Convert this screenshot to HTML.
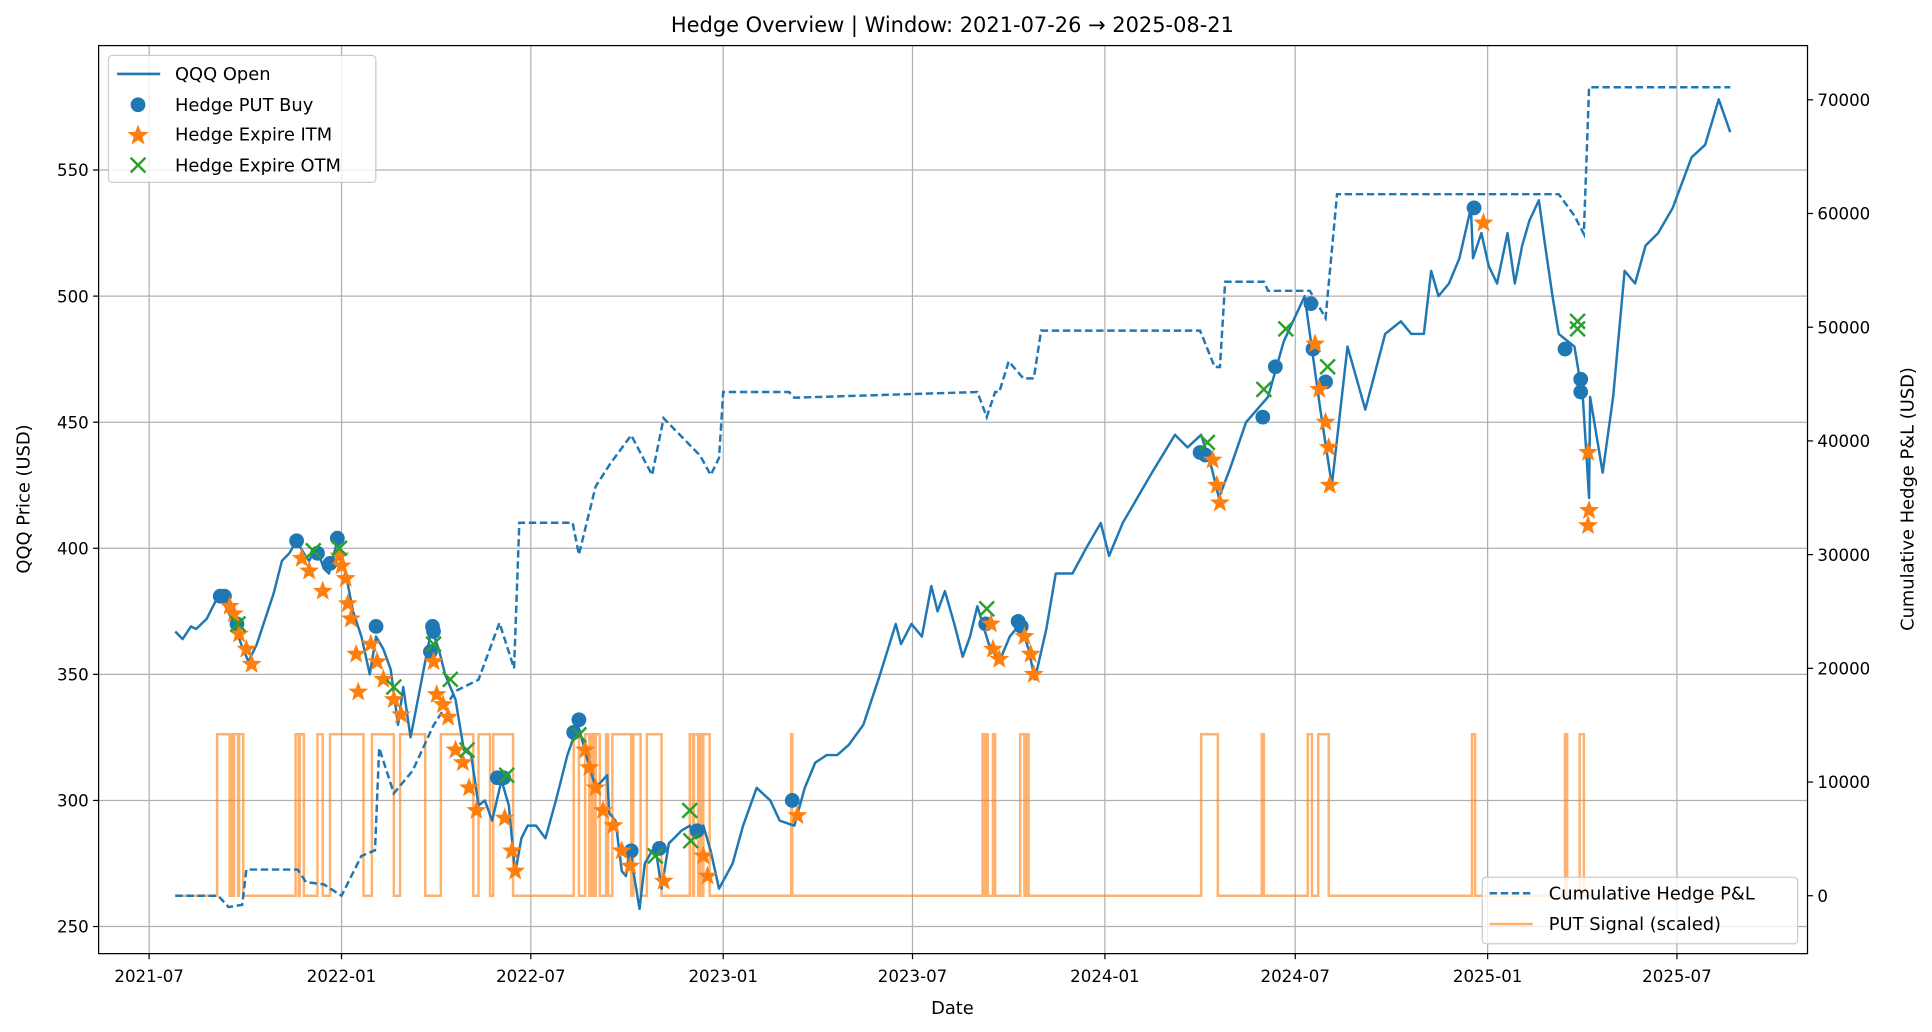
<!DOCTYPE html>
<html><head><meta charset="utf-8"><style>
html,body{margin:0;padding:0;background:#fff;}
svg{display:block;font-family:"DejaVu Sans","Liberation Sans",sans-serif;}
</style></head><body>
<svg id="chart" width="1932" height="1032" viewBox="0 0 1568 837.6" xmlns="http://www.w3.org/2000/svg">
<rect width="1568" height="837.6" fill="#fff"/>
<text x="773" y="26" font-size="17" text-anchor="middle">Hedge Overview  | Window: 2021-07-26 → 2025-08-21</text>
<g id="grid"></g>
<g id="sig"></g>
<g id="pnl"></g>
<g id="qqq"></g>
<g id="marks"></g>
<rect x="80" y="37" width="1387" height="737" fill="none" stroke="#000" stroke-width="1"/>
<g id="axes" font-size="13.5"></g>
<text x="773" y="823" font-size="14.5" text-anchor="middle">Date</text>
<text transform="translate(24,405) rotate(-90)" font-size="14.5" text-anchor="middle">QQQ Price (USD)</text>
<text transform="translate(1553,405) rotate(-90)" font-size="14.5" text-anchor="middle">Cumulative Hedge P&amp;L (USD)</text>
<g>
<rect x="88" y="45" width="217" height="103" rx="3" fill="#fff" fill-opacity="0.8" stroke="#ccc"/>
<line x1="95" y1="60" x2="130" y2="60" stroke="#1f77b4" stroke-width="2.2"/>
<text x="142" y="65" font-size="14.5">QQQ Open</text>
<circle cx="112" cy="85" r="6" fill="#1f77b4"/>
<text x="142" y="90" font-size="14.5">Hedge PUT Buy</text>
<path id="legstar" d="" fill="#ff7f0e"/>
<text x="142" y="114" font-size="14.5">Hedge Expire ITM</text>
<path d="M106,128 L118,140 M118,128 L106,140" stroke="#2ca02c" stroke-width="2"/>
<text x="142" y="139" font-size="14.5">Hedge Expire OTM</text>
</g>
<g>
<rect x="1203" y="712" width="256" height="54" rx="3" fill="#fff" fill-opacity="0.8" stroke="#ccc"/>
<line x1="1209" y1="725" x2="1244" y2="725" stroke="#1f77b4" stroke-width="2" stroke-dasharray="6,3"/>
<text x="1257" y="730" font-size="14.5">Cumulative Hedge P&amp;L</text>
<line x1="1209" y1="750" x2="1244" y2="750" stroke="#ff7f0e" stroke-opacity="0.6" stroke-width="2.2"/>
<text x="1257" y="755" font-size="14.5">PUT Signal (scaled)</text>
</g>
</svg>
<script>
const qqqDates=["2021-07-26","2021-08-02","2021-08-10","2021-08-15","2021-08-25","2021-09-05","2021-09-12","2021-09-20","2021-09-27","2021-10-04","2021-10-12","2021-10-20","2021-10-28","2021-11-05","2021-11-12","2021-11-19","2021-11-26","2021-12-01","2021-12-06","2021-12-10","2021-12-15","2021-12-20","2021-12-28","2022-01-05","2022-01-12","2022-01-20","2022-01-28","2022-02-03","2022-02-10","2022-02-17","2022-02-24","2022-03-01","2022-03-08","2022-03-15","2022-03-28","2022-04-04","2022-04-10","2022-04-20","2022-04-28","2022-05-05","2022-05-12","2022-05-18","2022-05-25","2022-06-03","2022-06-10","2022-06-16","2022-06-22","2022-06-28","2022-07-06","2022-07-15","2022-07-25","2022-08-05","2022-08-15","2022-08-25","2022-09-01","2022-09-12","2022-09-14","2022-09-20","2022-09-26","2022-09-30","2022-10-04","2022-10-07","2022-10-13","2022-10-18","2022-10-25","2022-10-28","2022-11-03","2022-11-10","2022-11-15","2022-11-22","2022-11-30","2022-12-06","2022-12-13","2022-12-20","2022-12-28","2023-01-10","2023-01-20","2023-02-02","2023-02-15","2023-02-24","2023-03-10","2023-03-20","2023-03-30","2023-04-10","2023-04-20","2023-05-01","2023-05-15","2023-05-31","2023-06-15","2023-06-20","2023-06-30","2023-07-10","2023-07-19","2023-07-25","2023-08-01","2023-08-10","2023-08-18","2023-08-25","2023-09-01","2023-09-12","2023-09-22","2023-10-02","2023-10-12","2023-10-20","2023-10-26","2023-11-06","2023-11-15","2023-12-01","2023-12-14","2023-12-28","2024-01-05","2024-01-18","2024-02-01","2024-02-15","2024-03-08","2024-03-20","2024-04-02","2024-04-12","2024-04-19","2024-04-30","2024-05-15","2024-06-05","2024-06-20","2024-07-10","2024-07-25","2024-08-05","2024-08-20","2024-09-06","2024-09-25","2024-10-10","2024-10-20","2024-11-01","2024-11-08","2024-11-15","2024-11-25","2024-12-05","2024-12-16","2024-12-18","2024-12-26","2025-01-02","2025-01-10","2025-01-20","2025-01-27","2025-02-03","2025-02-10","2025-02-19","2025-02-25","2025-03-04","2025-03-10","2025-03-25","2025-04-02","2025-04-08","2025-04-09","2025-04-21","2025-05-01","2025-05-12","2025-05-22","2025-06-01","2025-06-13","2025-06-27","2025-07-15","2025-07-28","2025-08-10","2025-08-21"];
const qqqValues=[367,364,369,368,372,381,377,370,362,355,362,372,382,395,398,403,398,395,399,398,392,390,403,390,375,365,350,365,360,352,330,345,325,340,368,360,350,340,320,318,298,300,292,308,298,271,285,290,290,285,300,318,330,315,305,310,295,292,272,270,282,272,257,275,280,282,265,283,285,288,290,285,290,280,265,275,290,305,300,292,290,305,315,318,318,322,330,350,370,362,370,365,385,375,383,370,357,365,377,362,355,365,370,360,348,368,390,390,400,410,397,410,420,430,445,440,445,432,420,432,450,460,482,500,455,425,480,455,485,490,485,485,510,500,505,515,535,515,525,512,505,525,505,520,530,538,520,500,485,480,460,420,460,430,460,510,505,520,525,535,555,560,578,565];
const pnlDates=["2021-07-26","2021-09-05","2021-09-15","2021-09-28","2021-10-02","2021-11-20","2021-11-28","2021-12-15","2022-01-01","2022-01-20","2022-02-02","2022-02-06","2022-02-20","2022-03-10","2022-03-30","2022-04-20","2022-05-12","2022-06-01","2022-06-15","2022-06-20","2022-08-10","2022-08-16","2022-09-01","2022-09-15","2022-10-05","2022-10-25","2022-11-05","2022-12-10","2022-12-20","2022-12-28","2023-01-01","2023-03-05","2023-03-10","2023-09-01","2023-09-10","2023-09-18","2023-09-22","2023-10-01","2023-10-15","2023-10-25","2023-11-01","2024-04-01","2024-04-15","2024-04-20","2024-04-25","2024-06-01","2024-06-05","2024-07-15","2024-07-30","2024-08-10","2025-03-10","2025-03-25","2025-04-03","2025-04-08","2025-08-21"];
const pnlValues=[0,0,-1000,-800,2300,2300,1200,1000,0,3500,4000,13000,9000,11000,15000,18000,19000,24000,20000,32800,32800,30000,36000,38000,40500,37000,42000,38700,37000,38500,44300,44300,43800,44300,42100,44300,44300,47000,45500,45500,49700,49700,46500,46500,54000,54000,53200,53200,50800,61700,61700,59800,58200,71100,71100];
const sigStarts=["2021-09-04","2021-09-17","2021-09-20","2021-09-25","2021-11-18","2021-11-22","2021-12-09","2021-12-21","2022-01-30","2022-02-26","2022-04-06","2022-05-12","2022-05-26","2022-08-11","2022-08-22","2022-08-28","2022-09-01","2022-09-11","2022-09-17","2022-10-07","2022-10-20","2022-11-30","2022-12-04","2022-12-10","2022-12-13","2023-03-07","2023-09-06","2023-09-09","2023-09-16","2023-10-12","2023-10-18","2024-04-02","2024-05-30","2024-07-13","2024-07-23","2024-12-17","2025-03-16","2025-03-30"];
const sigEnds=["2021-09-16","2021-09-19","2021-09-24","2021-09-29","2021-11-21","2021-11-26","2021-12-14","2022-01-22","2022-02-20","2022-03-22","2022-05-07","2022-05-23","2022-06-14","2022-08-16","2022-08-26","2022-08-30","2022-09-05","2022-09-13","2022-10-05","2022-10-14","2022-11-03","2022-12-03","2022-12-08","2022-12-12","2022-12-19","2023-03-08","2023-09-08","2023-09-11","2023-09-18","2023-10-16","2023-10-20","2024-04-18","2024-06-01","2024-07-17","2024-08-02","2024-12-20","2025-03-18","2025-04-03"];
const sigLevel=14200;
const buyDates=["2021-09-07","2021-09-11","2021-09-23","2021-11-19","2021-12-09","2021-12-21","2021-12-28","2022-02-03","2022-03-29","2022-03-30","2022-03-27","2022-08-16","2022-08-11","2022-05-30","2022-06-05","2022-10-05","2022-11-01","2022-12-07","2023-03-08","2023-09-09","2023-10-10","2023-10-13","2024-04-01","2024-04-06","2024-05-31","2024-06-12","2024-07-16","2024-07-18","2024-07-30","2024-12-19","2025-03-16","2025-03-31","2025-03-31"];
const buyPrices=[381,381,370,403,398,394,404,369,369,367,359,332,327,309,309,280,281,288,300,370,371,369,438,437,452,472,497,479,466,535,479,467,462];
const itmDates=["2021-09-16","2021-09-20","2021-09-25","2021-10-02","2021-10-07","2021-11-24","2021-12-01","2021-12-14","2021-12-30","2022-01-01","2022-01-05","2022-01-07","2022-01-10","2022-01-15","2022-01-17","2022-01-29","2022-02-04","2022-02-10","2022-02-20","2022-02-27","2022-03-30","2022-04-02","2022-04-08","2022-04-13","2022-04-20","2022-04-27","2022-05-03","2022-05-10","2022-06-06","2022-06-13","2022-06-16","2022-08-22","2022-08-26","2022-09-01","2022-09-08","2022-09-18","2022-09-26","2022-10-04","2022-11-05","2022-12-13","2022-12-17","2023-03-13","2023-09-14","2023-09-16","2023-09-22","2023-10-16","2023-10-22","2023-10-25","2024-04-13","2024-04-17","2024-04-20","2024-07-20","2024-07-24","2024-07-30","2024-08-02","2024-08-03","2024-12-28","2025-04-07","2025-04-08","2025-04-07"];
const itmPrices=[377,374,366,360,354,396,391,383,397,393,388,378,372,358,343,362,355,348,340,334,355,342,338,333,320,315,305,296,293,280,272,320,313,305,296,290,280,274,268,278,270,294,370,360,356,365,358,350,435,425,418,481,463,450,440,425,529,438,415,409];
const otmDates=["2021-09-24","2021-12-05","2021-12-30","2022-02-20","2022-03-30","2022-04-15","2022-05-01","2022-06-08","2022-08-16","2022-10-28","2022-11-30","2022-12-01","2023-09-10","2024-04-08","2024-06-01","2024-06-22","2024-08-01","2025-03-28","2025-03-28"];
const otmPrices=[370,399,400,345,362,348,320,310,326,278,296,284,376,442,463,487,472,490,487];
const xTickLabels=["2021-07","2022-01","2022-07","2023-01","2023-07","2024-01","2024-07","2025-01","2025-07"];
const yTickLabels=[250,300,350,400,450,500,550];
const y2TickLabels=[0,10000,20000,30000,40000,50000,60000,70000];

const NS="http://www.w3.org/2000/svg";
const D0=Date.UTC(2021,6,1);
function days(s){const p=s.split("-").map(Number);return (Date.UTC(p[0],p[1]-1,p[2]||1)-D0)/864e5;}
function X(s){return 121+days(s)*(1240/1461);}
function Y(v){return 752-(v-250)*(614/300);}
function Y2(v){return 727-v*(646/70000);}
function mk(tag,attrs,parent){const e=document.createElementNS(NS,tag);for(const k in attrs)e.setAttribute(k,attrs[k]);parent.appendChild(e);return e;}
const grid=document.getElementById("grid"),axes=document.getElementById("axes");
xTickLabels.forEach(t=>{const x=X(t+"-01");
 const l=mk("line",{x1:x,x2:x,y1:37,y2:774,stroke:"#b0b0b0","stroke-width":1},grid);
 
 
 mk("line",{x1:x,x2:x,y1:774,y2:778.5,stroke:"#000"},axes);
 const tx=mk("text",{x:x,y:797,"text-anchor":"middle"},axes);tx.textContent=t;
 
 
});
yTickLabels.forEach(v=>{const y=Y(v);
 const l=mk("line",{x1:80,x2:1467,y1:y,y2:y,stroke:"#b0b0b0","stroke-width":1},grid);
 
 
 mk("line",{x1:75.5,x2:80,y1:y,y2:y,stroke:"#000"},axes);
 const tx=mk("text",{x:72,y:y+5,"text-anchor":"end"},axes);tx.textContent=v;
 
 
});
y2TickLabels.forEach(v=>{const y=Y2(v);
 mk("line",{x1:1467,x2:1471.5,y1:y,y2:y,stroke:"#000"},axes);
 const tx=mk("text",{x:1475,y:y+5},axes);tx.textContent=v;
 
 
});
let sp="M"+X("2021-07-26")+","+Y2(0);
sigStarts.forEach((s,i)=>{sp+=" L"+X(s)+","+Y2(0)+" L"+X(s)+","+Y2(sigLevel)+" L"+X(sigEnds[i])+","+Y2(sigLevel)+" L"+X(sigEnds[i])+","+Y2(0);});
sp+=" L"+X("2025-08-21")+","+Y2(0);
const sg=mk("path",{d:sp,fill:"none",stroke:"#ff7f0e","stroke-opacity":0.6,"stroke-width":2},document.getElementById("sig"));


const pp=pnlDates.map((d,i)=>(i?"L":"M")+X(d)+","+Y2(pnlValues[i])).join(" ");
const pl=mk("path",{d:pp,fill:"none",stroke:"#1f77b4","stroke-width":2,"stroke-dasharray":"6,3"},document.getElementById("pnl"));


const qp=qqqDates.map((d,i)=>(i?"L":"M")+X(d)+","+Y(qqqValues[i])).join(" ");
const ql=mk("path",{d:qp,fill:"none",stroke:"#1f77b4","stroke-width":2,"stroke-linejoin":"round"},document.getElementById("qqq"));


function star(cx,cy,r){let d="";for(let i=0;i<10;i++){const a=-Math.PI/2+i*Math.PI/5,rr=i%2?r*0.42:r;d+=(i?"L":"M")+(cx+rr*Math.cos(a)).toFixed(1)+","+(cy+rr*Math.sin(a)).toFixed(1);}return d+"Z";}
document.getElementById("legstar").setAttribute("d",star(112,110,9));
const marks=document.getElementById("marks");
buyDates.forEach((d,i)=>{const c=mk("circle",{cx:X(d),cy:Y(buyPrices[i]),r:6,fill:"#1f77b4"},marks);
 
 });
itmDates.forEach((d,i)=>{const s=mk("path",{d:star(X(d),Y(itmPrices[i]),8.5),fill:"#ff7f0e"},marks);
 
 });
otmDates.forEach((d,i)=>{const x=X(d),y=Y(otmPrices[i]);const p=mk("path",{d:`M${x-6},${y-6}L${x+6},${y+6}M${x+6},${y-6}L${x-6},${y+6}`,stroke:"#2ca02c","stroke-width":2},marks);
 
 });
</script>
</body></html>
